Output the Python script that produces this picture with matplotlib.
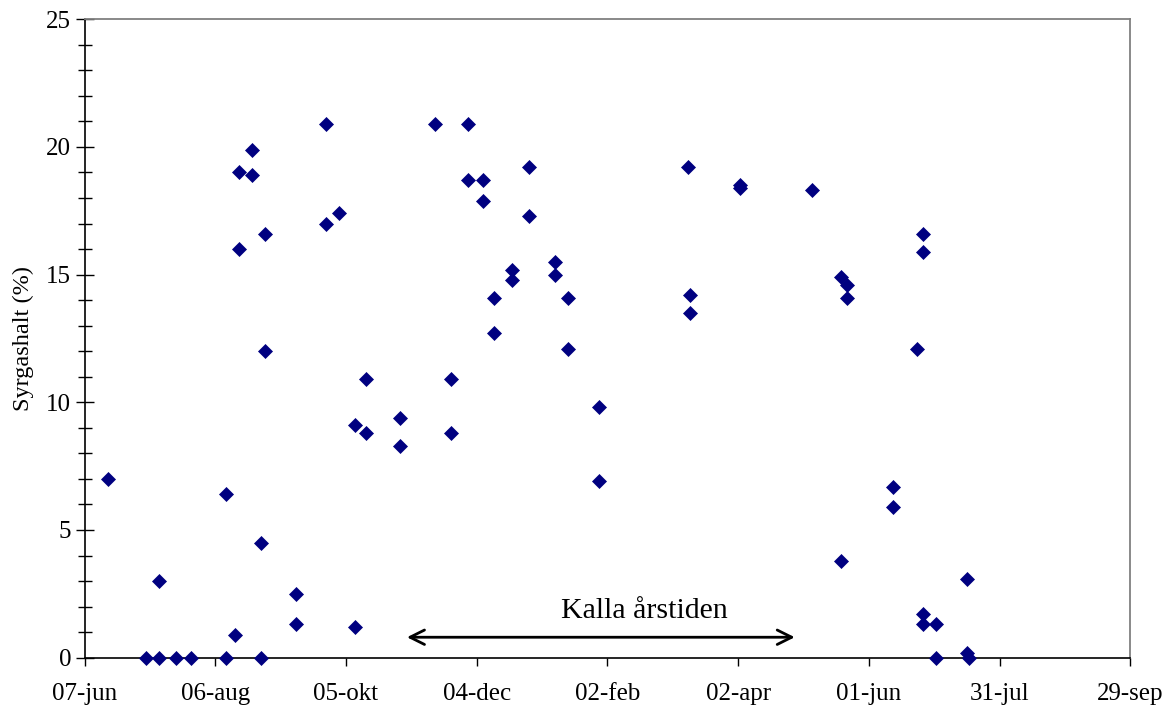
import matplotlib
matplotlib.use("Agg")
import matplotlib.pyplot as plt
from matplotlib.ticker import MultipleLocator

plt.rcParams['font.family'] = ['Liberation Serif', 'DejaVu Serif']

# days after 07-jun
days = [11, 28, 34, 34, 42, 49, 65, 65, 69, 71, 71, 77, 77, 81, 81, 83, 83,
        97, 97, 111, 111, 117, 124, 124, 129, 129, 145, 145, 161, 168, 168,
        176, 176, 183, 183, 188, 188, 196, 196, 204, 204, 216, 216, 222, 222,
        236, 236, 277, 278, 278, 301, 301, 334, 347, 347, 350, 350, 371, 371,
        382, 385, 385, 385, 385, 391, 391, 405, 405, 406]

# oxygen content (%)
syrgas = [7.0, 0.0, 3.0, 0.0, 0.0, 0.0, 6.4, 0.0, 0.9, 19.0, 16.0, 19.9, 18.9,
          4.5, 0.0, 16.6, 12.0, 2.5, 1.3, 20.9, 17.0, 17.4, 9.1, 1.2, 10.9,
          8.8, 9.4, 8.3, 20.9, 10.9, 8.8, 20.9, 18.7, 18.7, 17.9, 14.1, 12.7,
          15.2, 14.8, 19.2, 17.3, 15.5, 15.0, 14.1, 12.1, 9.8, 6.9, 19.2, 14.2,
          13.5, 18.5, 18.4, 18.3, 14.9, 3.8, 14.6, 14.1, 6.7, 5.9, 12.1, 16.6,
          15.9, 1.7, 1.3, 1.3, 0.0, 3.1, 0.2, 0.0]

tick_days = [0, 60, 120, 180, 240, 300, 360, 420, 480]
tick_labels = ["07-jun", "06-aug", "05-okt", "04-dec", "02-feb",
               "02-apr", "01-jun", "31-jul", "29-sep"]

fig = plt.figure(figsize=(11.72, 7.09), dpi=100)
ax = fig.add_axes([0.0721, 0.0724, 0.8923, 0.9004])

ax.plot(days, syrgas, linestyle='none', marker='D', markersize=7,
        color='#000080', markeredgewidth=0.5, clip_on=False, zorder=3)

ax.set_xlim(0, 480)
ax.set_ylim(0, 25)
ax.set_xticks(tick_days)
ax.set_xticklabels(tick_labels)
ax.yaxis.set_major_locator(MultipleLocator(5))
ax.yaxis.set_minor_locator(MultipleLocator(1))

ax.tick_params(axis='x', direction='out', length=6, width=1, labelsize=18, pad=12)
ax.tick_params(axis='y', which='major', direction='inout', length=13, width=1,
               labelsize=18, pad=3)
ax.tick_params(axis='y', which='minor', direction='inout', length=10, width=1)

ax.set_ylabel("Syrgashalt (%)", fontsize=17.5, labelpad=9)

for side in ['top', 'right']:
    ax.spines[side].set_color('#808080')
    ax.spines[side].set_linewidth(1.3)
for side in ['left', 'bottom']:
    ax.spines[side].set_color('black')
    ax.spines[side].set_linewidth(1.2)

# cold season arrow
ax.annotate("", xy=(148, 0.8), xytext=(326, 0.8),
            arrowprops=dict(arrowstyle='<->', color='black', lw=2,
                            mutation_scale=26, shrinkA=0, shrinkB=0))
ax.text(257, 1.55, "Kalla årstiden", fontsize=21.5, ha='center', va='baseline')

fig.savefig("out.png", dpi=100)
